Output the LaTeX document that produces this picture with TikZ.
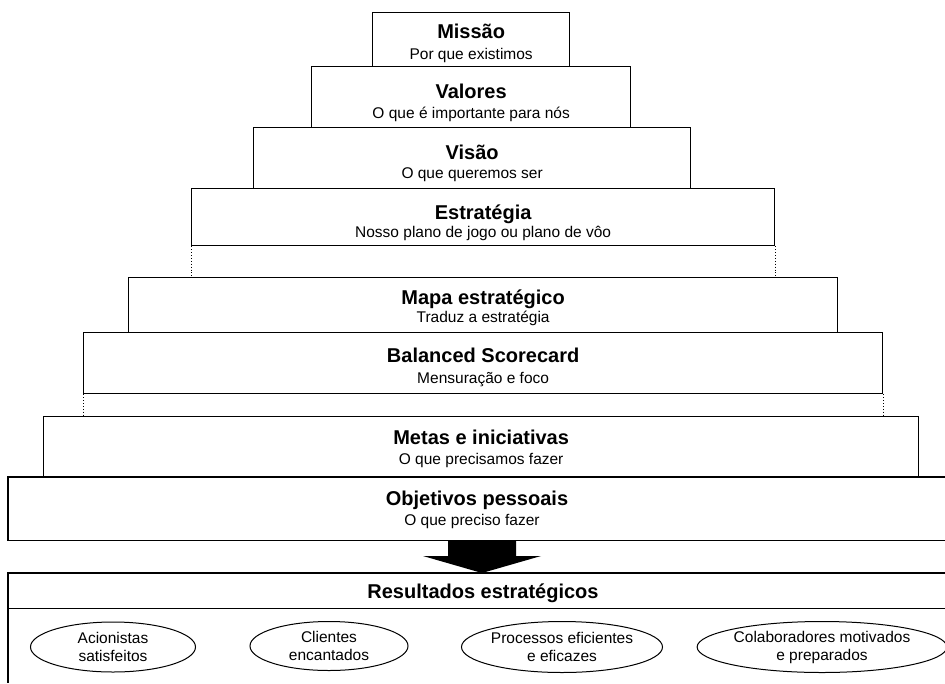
\documentclass[tikz,border=0pt]{standalone}
\usepackage{fontspec}
\setmainfont{Liberation Sans}
\usetikzlibrary{shapes.geometric}
\begin{document}
\begin{tikzpicture}[x=1pt,y=-1pt,
  lw/.style={line width=1.3pt},
  tier/.style={rectangle,draw,lw,inner sep=0pt,align=center,anchor=north west},
  ttl/.style={font=\bfseries\fontsize{20}{22}\selectfont,inner sep=0pt,anchor=base},
  sub/.style={font=\fontsize{15.5}{17}\selectfont,inner sep=0pt,anchor=base},
  goal/.style={ellipse,draw,line width=1pt,inner sep=0pt,align=center,font=\fontsize{15.5}{18}\selectfont},
  dots/.style={dotted,line width=0.9pt}]
\useasboundingbox (0,0) rectangle (945,683);
% tiers
\node[tier,minimum width=197pt,minimum height=54pt] (missao) at (372,12) {};
\node[tier,minimum width=319pt,minimum height=61pt] (valores) at (311,66) {};
\node[tier,minimum width=437pt,minimum height=61pt] (visao) at (253,127) {};
\node[tier,minimum width=583pt,minimum height=57pt] (estr) at (191,188) {};
\node[tier,minimum width=709pt,minimum height=55pt] (mapa) at (128,277) {};
\node[tier,minimum width=799pt,minimum height=61pt] (bsc) at (83,332) {};
\node[tier,minimum width=875pt,minimum height=61pt] (metas) at (43,416) {};
\node[rectangle,inner sep=0pt,anchor=north west,minimum width=937pt,minimum height=63pt] (obj) at (8,477) {};
\draw[lw] (obj.north east) -- (obj.north west) -- (obj.south west) -- (obj.south east);
% texts (baselines)
\node[ttl] (t1) at ([yshift=-26pt]missao.north) {Missão};
\node[sub] (s1) at ([yshift=-47pt]missao.north) {Por que existimos};
\node[ttl] (t2) at ([yshift=-32pt]valores.north) {Valores};
\node[sub] (s2) at ([yshift=-52pt]valores.north) {O que é importante para nós};
\node[ttl] (t3) at ([yshift=-32pt]visao.north) {Visão};
\node[sub] (s3) at ([yshift=-51pt]visao.north) {O que queremos ser};
\node[ttl] (t4) at ([yshift=-31pt]estr.north) {Estratégia};
\node[sub] (s4) at ([yshift=-49pt]estr.north) {Nosso plano de jogo ou plano de vôo};
\node[ttl] (t5) at ([yshift=-27pt]mapa.north) {Mapa estratégico};
\node[sub] (s5) at ([yshift=-45pt]mapa.north) {Traduz a estratégia};
\node[ttl] (t6) at ([yshift=-30pt]bsc.north) {Balanced Scorecard};
\node[sub] (s6) at ([yshift=-51pt]bsc.north) {Mensuração e foco};
\node[ttl] (t7) at ([yshift=-28pt]metas.north) {Metas e iniciativas};
\node[sub] (s7) at ([yshift=-48pt]metas.north) {O que precisamos fazer};
\node[ttl] (t8) at (477,505) {Objetivos pessoais};
\node[sub] (s8) at (472,525) {O que preciso fazer};
% dotted connectors
\draw[dots] (estr.south west) -- (mapa.north west -| estr.south west);
\draw[dots] (estr.south east) -- (mapa.north west -| estr.south east);
\draw[dots] (bsc.south west) -- (metas.north west -| bsc.south west);
\draw[dots] (bsc.south east) -- (metas.north west -| bsc.south east);
% arrow
\coordinate (tip) at (482,573);
\fill (448,540) -- (516,540) -- (516,556) -- (541,556) -- (tip) -- (423,556) -- (448,556) -- cycle;
% results
\node[rectangle,inner sep=0pt,anchor=north west,minimum width=937pt,minimum height=35pt] (res) at (8,573) {};
\draw[lw] (res.north east) -- (res.north west) -- (res.south west) -- (res.south east);
\coordinate (bl) at (8,683);
\draw[lw] (res.south west) -- (bl);
\node[ttl] (rt) at (483,598) {Resultados estratégicos};
\node[goal,minimum width=165pt,minimum height=50pt] (g1) at (113,647) {Acionistas\\satisfeitos};
\node[goal,minimum width=158pt,minimum height=49pt] (g2) at (329,646) {Clientes\\encantados};
\node[goal,minimum width=152pt,minimum height=51pt] (g3) at (562,647) {Processos eficientes\\e eficazes};
\node[goal,minimum width=222pt,minimum height=51pt] (g4) at (822,647) {Colaboradores motivados\\e preparados};
\end{tikzpicture}
\end{document}
